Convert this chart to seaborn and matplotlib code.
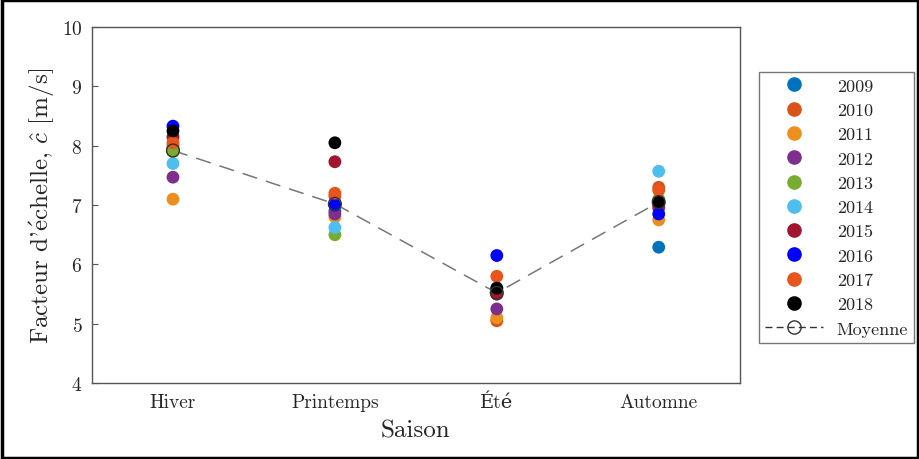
import numpy as np
import pandas as pd
import matplotlib
matplotlib.use('Agg')
import matplotlib.pyplot as plt
from matplotlib.lines import Line2D
from matplotlib.patches import Rectangle
import seaborn as sns

saisons = ['Hiver', 'Printemps', 'Été', 'Automne']
annees = ['2009', '2010', '2011', '2012', '2013', '2014', '2015', '2016', '2017', '2018']
# facteur d'echelle par annee: Hiver, Printemps, Ete, Automne
c2009 = [7.95, 6.90, 5.60, 6.29]
c2010 = [8.00, 7.15, 5.05, 7.30]
c2011 = [7.10, 6.80, 5.10, 6.75]
c2012 = [7.47, 6.85, 5.25, 6.95]
c2013 = [7.90, 6.50, 5.50, 7.10]
c2014 = [7.70, 6.62, 5.55, 7.57]
c2015 = [8.15, 7.73, 5.50, 7.00]
c2016 = [8.33, 7.00, 6.15, 6.85]
c2017 = [8.05, 7.20, 5.80, 7.25]
c2018 = [8.25, 8.05, 5.60, 7.05]
moyenne = [7.92, 7.02, 5.52, 7.05]
couleurs = ['#0072BD', '#D95319', '#EE8E1E', '#7E2F8E', '#77AC30',
            '#4DBEEE', '#A2142F', '#0000FF', '#E8541C', '#000000']

valeurs = [c2009, c2010, c2011, c2012, c2013, c2014, c2015, c2016, c2017, c2018]
rows = []
for a, v in zip(annees, valeurs):
    for s, c in zip(saisons, v):
        rows.append({'Saison': s, 'c': c, 'Annee': a})
df = pd.DataFrame(rows)
df_moy = pd.DataFrame({'Saison': saisons, 'c': moyenne})

sns.set_style('white')
plt.rcParams['font.family'] = ['cmr10', 'DejaVu Serif']
plt.rcParams['mathtext.fontset'] = 'cm'
plt.rcParams['axes.formatter.use_mathtext'] = True

fig = plt.figure(figsize=(9.2, 4.6), dpi=100)
ax = fig.add_axes([0.1, 0.165, 0.704, 0.774])

sns.lineplot(data=df_moy, x='Saison', y='c', ax=ax, sort=False, color='#777777',
             linewidth=1.1, zorder=1)
ax.lines[-1].set_dashes([10, 6])
sns.scatterplot(data=df, x='Saison', y='c', hue='Annee', palette=couleurs, s=85,
                edgecolor='none', ax=ax, legend=False, zorder=2)
sns.scatterplot(data=df_moy, x='Saison', y='c', ax=ax, s=85, facecolor='none',
                edgecolor='#333333', linewidth=1.0, legend=False, zorder=3)

ax.set_xlim(-0.5, 3.5)
ax.set_ylim(4, 10)
ax.set_yticks(range(4, 11))
ax.set_xlabel('Saison', fontsize=18, labelpad=6)
ax.set_ylabel("Facteur d'$\\mathrm{\\acute{e}}$chelle, $\\hat{c}$ [m/s]", fontsize=18)
ax.tick_params(axis='both', direction='in', length=4, labelsize=14, color='#555555',
               left=True, bottom=False, pad=7)
for sp in ax.spines.values():
    sp.set_color('#555555')
    sp.set_linewidth(1.0)

handles = [Line2D([], [], marker='o', linestyle='none', color=col, markersize=9.5)
           for col in couleurs]
handles.append(Line2D([], [], marker='o', color='#333333', linestyle='--',
                      dashes=[5, 3], markerfacecolor='none', markersize=9.5, linewidth=1.0))
labels = annees + ['Moyenne']
leg = fig.legend(handles, labels, loc='upper left', bbox_to_anchor=(0.825, 0.842),
                 fontsize=13, frameon=True, fancybox=False, edgecolor='#555555',
                 labelspacing=0.48, handlelength=3.2, handletextpad=0.75,
                 borderpad=0.35, borderaxespad=0)
leg.get_frame().set_linewidth(1.0)

fig.patches.append(Rectangle((0.002, 0.002), 0.996, 0.996, transform=fig.transFigure,
                             fill=False, edgecolor='black', linewidth=2.5))

fig.savefig('out.png', dpi=100)
